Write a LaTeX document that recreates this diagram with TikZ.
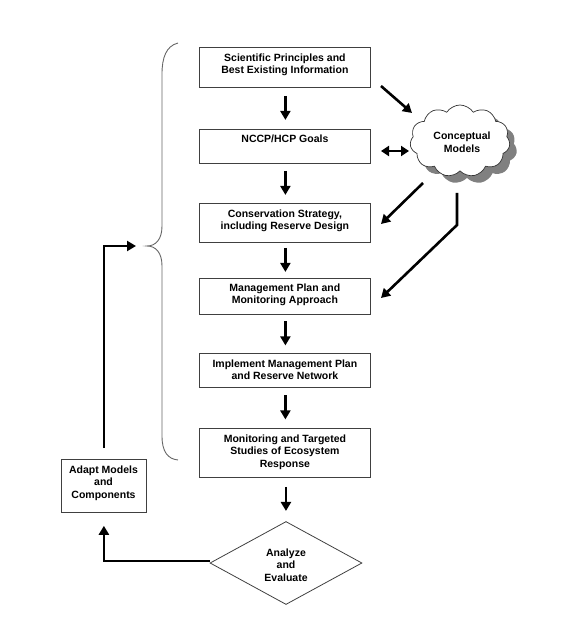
\documentclass[tikz,border=0pt]{standalone}
\usepackage{fontspec}
\setmainfont{Liberation Sans}
\usetikzlibrary{arrows.meta,shapes.geometric,shapes.symbols,calc}
\begin{document}
\begin{tikzpicture}[x=1pt,y=-1pt,
  box/.style={draw=black!75, line width=0.8pt, minimum width=171pt, anchor=north west, inner sep=0pt},
  txt/.style={font=\bfseries\fontsize{10.5}{12.5}\selectfont, align=center, inner sep=0pt},
  darr/.style={line width=2.6pt, -{Triangle[length=9pt,width=10pt]}},
  dbl/.style={line width=2.6pt, {Triangle[length=8pt,width=10pt]}-{Triangle[length=8pt,width=10pt]}},
  brace/.style={draw=black!60, line width=0.9pt},
  cloudshape/.style={cloud, cloud puffs=11, cloud puff arc=115, minimum width=100pt, minimum height=72pt, inner sep=0pt}]
\useasboundingbox (0,0) rectangle (564,628);
% boxes
\node[box, minimum height=40pt] (b1) at (199,47) {};
\node[box, minimum height=34pt] (b2) at (199,129) {};
\node[box, minimum height=39pt] (b3) at (199,203) {};
\node[box, minimum height=36pt] (b4) at (199,278) {};
\node[box, minimum height=34pt] (b5) at (199,353) {};
\node[box, minimum height=49pt] (b6) at (199,428) {};
\node[txt, anchor=north] (t1) at ([yshift=-6.5pt]b1.north) {Scientific Principles and\\Best Existing Information};
\node[txt, anchor=north] (t2) at ([yshift=-6pt]b2.north) {NCCP/HCP Goals};
\node[txt, anchor=north] (t3) at ([yshift=-6.5pt]b3.north) {Conservation Strategy,\\including Reserve Design};
\node[txt, anchor=north] (t4) at ([yshift=-5.5pt]b4.north) {Management Plan and\\Monitoring Approach};
\node[txt, anchor=north] (t5) at ([yshift=-6.5pt]b5.north) {Implement Management Plan\\and Reserve Network};
\node[txt, anchor=north] (t6) at ([yshift=-6.5pt]b6.north) {Monitoring and Targeted\\Studies of Ecosystem\\Response};
% diamond
\node[diamond, draw=black!75, line width=0.8pt, minimum width=152pt, minimum height=83pt, inner sep=0pt] (dia) at (286,563) {};
\node[txt] (tdia) at (286,565) {Analyze\\and\\Evaluate};
% adapt box
\node[box, minimum width=85pt, minimum height=53pt] (adapt) at (61,459) {};
\node[txt] (tadapt) at (103.5,483) {Adapt Models\\and\\Components};
% cloud
\node[cloudshape, fill=black!50] (cloudsh) at (467,148) {};
\node[cloudshape, draw=black!80, line width=0.7pt, fill=white] (cloud) at (460,141) {};
\node[txt] (tcloud) at (462,142) {Conceptual\\Models};
% vertical arrows
\foreach \a/\b in {b1/b2,b2/b3,b3/b4,b4/b5,b5/b6,b6/dia}{
  \draw[darr] ($(\a.south)!0.5!(\b.north)+(0.5,-12.5)$) -- ++(0,24);
}
% cloud arrows
\coordinate (c1s) at (381,86);
\coordinate (c1e) at (412,113);
\coordinate (c2s) at (381,151);
\coordinate (c2e) at (409,151);
\coordinate (c3s) at (423,183);
\coordinate (c3e) at (381,224);
\coordinate (c4s) at (457,193);
\coordinate (c4m) at (457,225);
\coordinate (c4e) at (381,298);
\draw[darr] (c1s) -- (c1e);
\draw[dbl] (c2s) -- (c2e);
\draw[darr] (c3s) -- (c3e);
\draw[darr, line join=miter] (c4s) -- (c4m) -- (c4e);
% brace
\draw[brace] (178,43) .. controls (166,46) and (162,58) .. (162,74) -- (162,226)
  .. controls (162,239) and (156,246) .. (147,246)
  .. controls (156,246) and (162,253) .. (162,266) -- (162,436)
  .. controls (162,452) and (168,459) .. (178,460);
% feedback loop
\coordinate (bracetip) at (136,246);
\draw[darr, line join=miter] ([yshift=11pt]adapt.north) -- (adapt.north |- bracetip) -- (bracetip);
\draw[darr, line join=miter] ([yshift=2pt]dia.west) -- ([yshift=2pt]dia.west -| adapt.south) -- ([yshift=-13pt]adapt.south);
\end{tikzpicture}
\end{document}
